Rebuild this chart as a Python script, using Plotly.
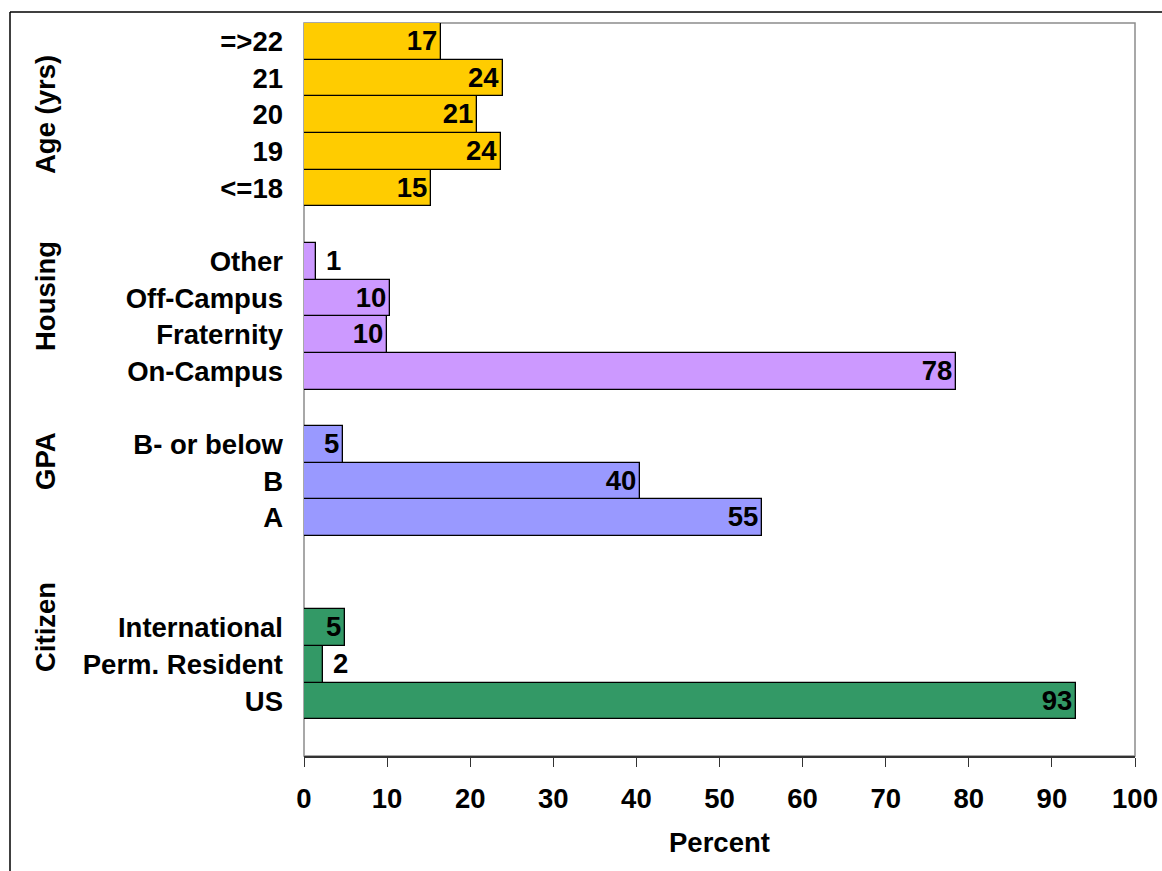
import plotly.graph_objects as go

# Survey respondent profile, percent of respondents per group
age_labels = ["<=18", "19", "20", "21", "=>22"]
age_values = [15.3, 23.7, 20.8, 24.0, 16.5]

housing_labels = ["On-Campus", "Fraternity", "Off-Campus", "Other"]
housing_values = [78.4, 10.0, 10.4, 1.4]

gpa_labels = ["A", "B", "B- or below"]
gpa_values = [55.1, 40.4, 4.7]

citizen_labels = ["US", "Perm. Resident", "International"]
citizen_values = [92.9, 2.3, 4.9]

x_ticks = [0, 10, 20, 30, 40, 50, 60, 70, 80, 90, 100]

# Row order on the category axis, bottom to top; blank rows separate groups
row_order = ([" "] + citizen_labels + ["  ", "   "] + gpa_labels + ["    "]
             + housing_labels + ["     "] + age_labels)

FONT = "Arial, 'Liberation Sans', sans-serif"
FS = 27.5

# Plot-area geometry in page pixels
W_PAGE, H_PAGE = 1162, 871
L, R, T, B = 304, 1135, 23, 756


def px_x(px):
    return (px - L) / (R - L)


def px_y(py):
    return (B - py) / (B - T)


def bold(size=FS):
    return dict(family=FONT, size=size, color="black", weight="bold")


groups = [
    (age_labels, age_values, "#FFCC00"),
    (housing_labels, housing_values, "#CC99FF"),
    (gpa_labels, gpa_values, "#9999FF"),
    (citizen_labels, citizen_values, "#339966"),
]

fig = go.Figure()
for labels, values, color in groups:
    small = [v < 3 for v in values]
    fig.add_trace(go.Bar(
        y=labels,
        x=values,
        orientation="h",
        width=1.0,
        marker=dict(color=color, line=dict(color="black", width=1.3)),
        texttemplate=["\u00a0%{x:.0f}" if s else "%{x:.0f}" for s in small],
        textposition=["outside" if s else "inside" for s in small],
        insidetextanchor="end",
        textangle=0,
        constraintext="none",
        cliponaxis=False,
        textfont=bold(),
        hoverinfo="skip",
        showlegend=False,
    ))

group_titles = [("Age (yrs)", 115), ("Housing", 296), ("GPA", 461), ("Citizen", 627)]
annotations = [
    dict(text=name, x=px_x(45), y=px_y(py), xref="paper", yref="paper",
         textangle=-90, showarrow=False, xanchor="center", yanchor="middle",
         font=bold())
    for name, py in group_titles
]
# x-axis title
annotations.append(dict(text="Percent", x=0.5, y=px_y(842), xref="paper",
                        yref="paper", showarrow=False, xanchor="center",
                        yanchor="middle", font=bold()))

shapes = [
    # plot-area border (grey)
    dict(type="rect", xref="paper", yref="paper", x0=0, x1=1, y0=0, y1=1,
         line=dict(color="#8c8c8c", width=1.5), layer="below"),
    # outer chart frame
    dict(type="line", xref="paper", yref="paper",
         x0=px_x(10), x1=px_x(W_PAGE + 5), y0=px_y(12), y1=px_y(12),
         line=dict(color="black", width=1.5)),
    dict(type="line", xref="paper", yref="paper",
         x0=px_x(10), x1=px_x(10), y0=px_y(12), y1=px_y(H_PAGE + 5),
         line=dict(color="black", width=1.5)),
]

fig.update_layout(
    width=W_PAGE,
    height=H_PAGE,
    margin=dict(l=L, r=W_PAGE - R, t=T, b=H_PAGE - B, pad=0),
    paper_bgcolor="white",
    plot_bgcolor="white",
    barmode="overlay",
    bargap=0,
    font=dict(family=FONT, size=FS, color="black"),
    annotations=annotations,
    shapes=shapes,
    xaxis=dict(
        range=[0, 100],
        tickvals=x_ticks,
        ticktext=[str(t) for t in x_ticks],
        ticks="outside",
        ticklen=9,
        tickwidth=1.3,
        tickcolor="#333333",
        ticklabelstandoff=8,
        showline=True,
        linecolor="#333333",
        linewidth=2,
        showgrid=False,
        zeroline=False,
        automargin=False,
        tickfont=bold(),
        fixedrange=True,
    ),
    yaxis=dict(
        type="category",
        categoryorder="array",
        categoryarray=row_order,
        range=[-0.5, len(row_order) - 0.5],
        showgrid=False,
        zeroline=False,
        showline=False,
        ticks="",
        ticklabelstandoff=20,
        automargin=False,
        tickfont=bold(),
        fixedrange=True,
    ),
)

fig.write_html("out.html")
